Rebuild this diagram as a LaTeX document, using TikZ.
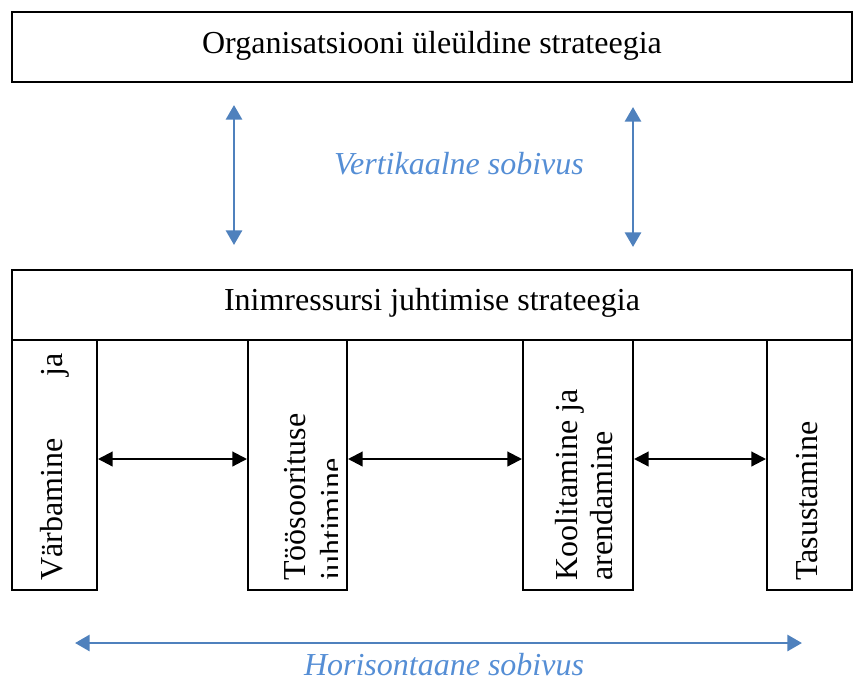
\documentclass[tikz,border=0pt]{standalone}
\usepackage{fontspec}
\setmainfont{Liberation Serif}
\usetikzlibrary{arrows.meta,fit}
\definecolor{arrblue}{HTML}{4F81BD}
\definecolor{txtblue}{HTML}{558ED5}
\begin{document}
\begin{tikzpicture}[x=0.75pt,y=-0.75pt,
  box/.style={draw=black,line width=1.5pt,inner sep=0pt},
  txt/.style={font=\fontsize{24}{27.6}\selectfont,inner sep=0pt},
  vtxt/.style={txt,rotate=90,anchor=base west},
  btxt/.style={font=\fontsize{24}{27.6}\selectfont\itshape,text=txtblue,inner sep=0pt,anchor=base},
  blkarrow/.style={line width=1.6pt,{Triangle[length=11pt,width=11pt]}-{Triangle[length=11pt,width=11pt]}},
  bluearrow/.style={draw=arrblue,line width=2.2pt,{Triangle[length=11pt,width=12pt]}-{Triangle[length=11pt,width=12pt]}}
]
\useasboundingbox (0,0) rectangle (853,683);
% top box
\node[box,fit={(12,12) (852,82)}] (org) {};
\node[txt,anchor=base] (orgt) at (432,53) {Organisatsiooni üleüldine strateegia};
% HRM box
\node[box,fit={(12,270) (852,340)}] (hrm) {};
\node[txt,anchor=base] (hrmt) at (432,310) {Inimressursi juhtimise strateegia};
% vertical boxes
\node[box,fit={(12,340) (97,590)}] (v1) {};
\node[box,fit={(248,340) (347,590)}] (v2) {};
\node[box,fit={(523,340) (633,590)}] (v3) {};
\node[box,fit={(767,340) (852,590)}] (v4) {};
% vertical texts
\node[vtxt] (v1a) at (62,581) {Värbamine};
\node[vtxt] (v1b) at (62,377) {ja};
\node[vtxt] (v2a) at (305,581) {Töösoorituse};
\begin{scope}
  \clip (249,341) rectangle (337,589);
  \node[vtxt] (v2b) at (342,581) {juhtimine};
\end{scope}
\node[vtxt] (v3a) at (577,581) {Koolitamine ja};
\node[vtxt] (v3b) at (612,581) {arendamine};
\node[vtxt] (v4a) at (817,581) {Tasustamine};
% horizontal black arrows
\coordinate (ay) at (0,459);
\draw[blkarrow] (v1.east |- ay) -- (v2.west |- ay);
\draw[blkarrow] (v2.east |- ay) -- (v3.west |- ay);
\draw[blkarrow] (v3.east |- ay) -- (v4.west |- ay);
% vertical blue arrows
\coordinate (l1) at (234,105);
\coordinate (l2) at (234,245);
\coordinate (r1) at (633,107);
\coordinate (r2) at (633,247);
\draw[bluearrow] (l1) -- (l2);
\draw[bluearrow] (r1) -- (r2);
\node[btxt] (vert) at (459,174) {Vertikaalne sobivus};
% horizontal blue arrow
\coordinate (h1) at (75,643);
\coordinate (h2) at (802,643);
\draw[bluearrow] (h1) -- (h2);
\node[btxt] (hor) at (444,675) {Horisontaane sobivus};
\end{tikzpicture}
\end{document}
